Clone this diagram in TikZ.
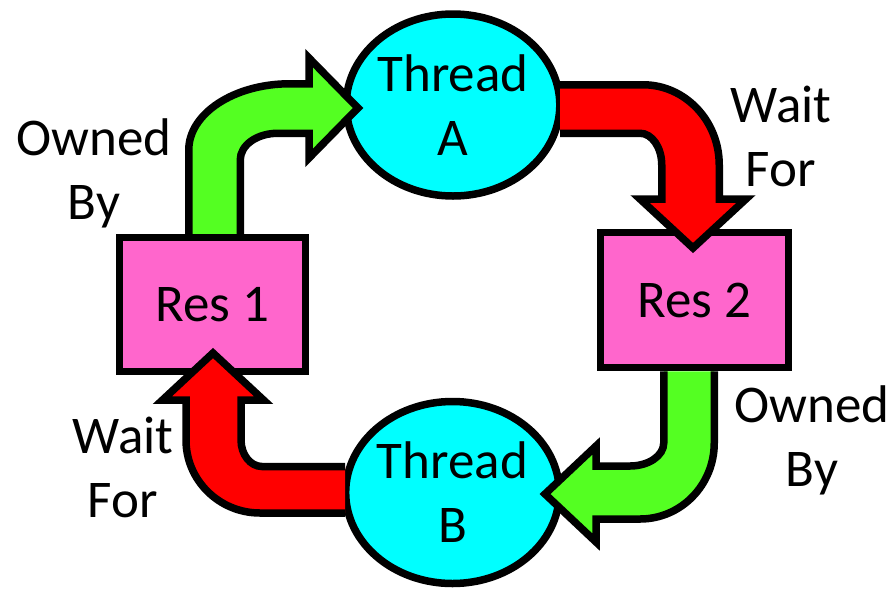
\documentclass[tikz,border=0pt]{standalone}
\usepackage{fontspec}
\setmainfont{Carlito}
\usetikzlibrary{shapes.geometric}
\definecolor{threadcyan}{RGB}{0,255,255}
\definecolor{respink}{RGB}{255,102,204}
\definecolor{ownedgreen}{RGB}{84,255,34}
\definecolor{waitred}{RGB}{255,0,0}
\begin{document}
\begin{tikzpicture}[x=1pt,y=-1pt,
  every node/.style={font=\fontsize{53}{64}\selectfont},
  thread/.style={ellipse, draw, line width=7.5pt, fill=threadcyan,
    minimum width=213pt, minimum height=182pt, inner sep=0pt, align=center},
  res/.style={rectangle, draw, line width=7.5pt, fill=respink, inner sep=0pt},
  edgetext/.style={align=center, inner sep=0pt},
  blockarrow/.style={draw, line width=7.5pt, line join=miter, miter limit=10}
]
\useasboundingbox (0,0) rectangle (891,590);

% threads and resources
\node[thread] (ta) at (453,105) {Thread\\A};
\node[thread] (tb) at (452.5,492.5) {Thread\\B};
\node[res, minimum width=186pt, minimum height=134pt] (r1) at (212.5,304.5) {Res 1};
\node[res, minimum width=188pt, minimum height=135pt] (r2) at (694.5,300) {Res 2};

% Res 1 is owned by Thread A
\filldraw[blockarrow, fill=ownedgreen]
  (188.75,0 |- r1.north) -- (188.75,150)
  .. controls (188.75,113.6) and (234,83.75) .. (290,83.75)
  -- (309,83.75) -- (309,58) -- (358,108) -- (309,158) -- (309,133.25)
  -- (278,133.25) .. controls (257,133.25) and (240.25,145) .. (240.25,160)
  -- (240.25,0 |- r1.north);

% Thread A waits for Res 2
\filldraw[blockarrow, fill=waitred]
  (560,84.75) -- (643,84.75)
  .. controls (685,84.75) and (719.25,120.7) .. (719.25,165)
  -- (719.25,199) -- (746,199) -- (693,248) -- (640,199) -- (661.75,199)
  -- (661.75,165) .. controls (661.75,147.5) and (652,133.25) .. (640,133.25)
  -- (560,133.25);

% Res 2 is owned by Thread B
\filldraw[blockarrow, fill=ownedgreen]
  (714.25,0 |- r2.south) -- (714.25,443)
  .. controls (714.25,485) and (681,519) .. (640,519)
  -- (596,519) -- (596,542) -- (545,494) -- (596,446) -- (596,466)
  -- (630,466) .. controls (648.6,466) and (663.75,455.7) .. (663.75,443)
  -- (663.75,0 |- r2.south);

% Thread B waits for Res 1
\filldraw[blockarrow, fill=waitred]
  (345,466.5) -- (262,466.5)
  .. controls (250.4,466.5) and (241,454.6) .. (241,440)
  -- (241,400) -- (263.5,400) -- (213,353) -- (162.5,400) -- (186,400)
  -- (186,440) .. controls (186,480.3) and (219.2,513) .. (260,513)
  -- (345,513);

% edge captions
\node[edgetext] (own1) at (94,173) {Owned\\By};
\node[edgetext] (wait1) at (781,136) {Wait\\For};
\node[edgetext] (own2) at (812,440) {Owned\\By};
\node[edgetext] (wait2) at (123,467.5) {Wait\\For};
\end{tikzpicture}
\end{document}
